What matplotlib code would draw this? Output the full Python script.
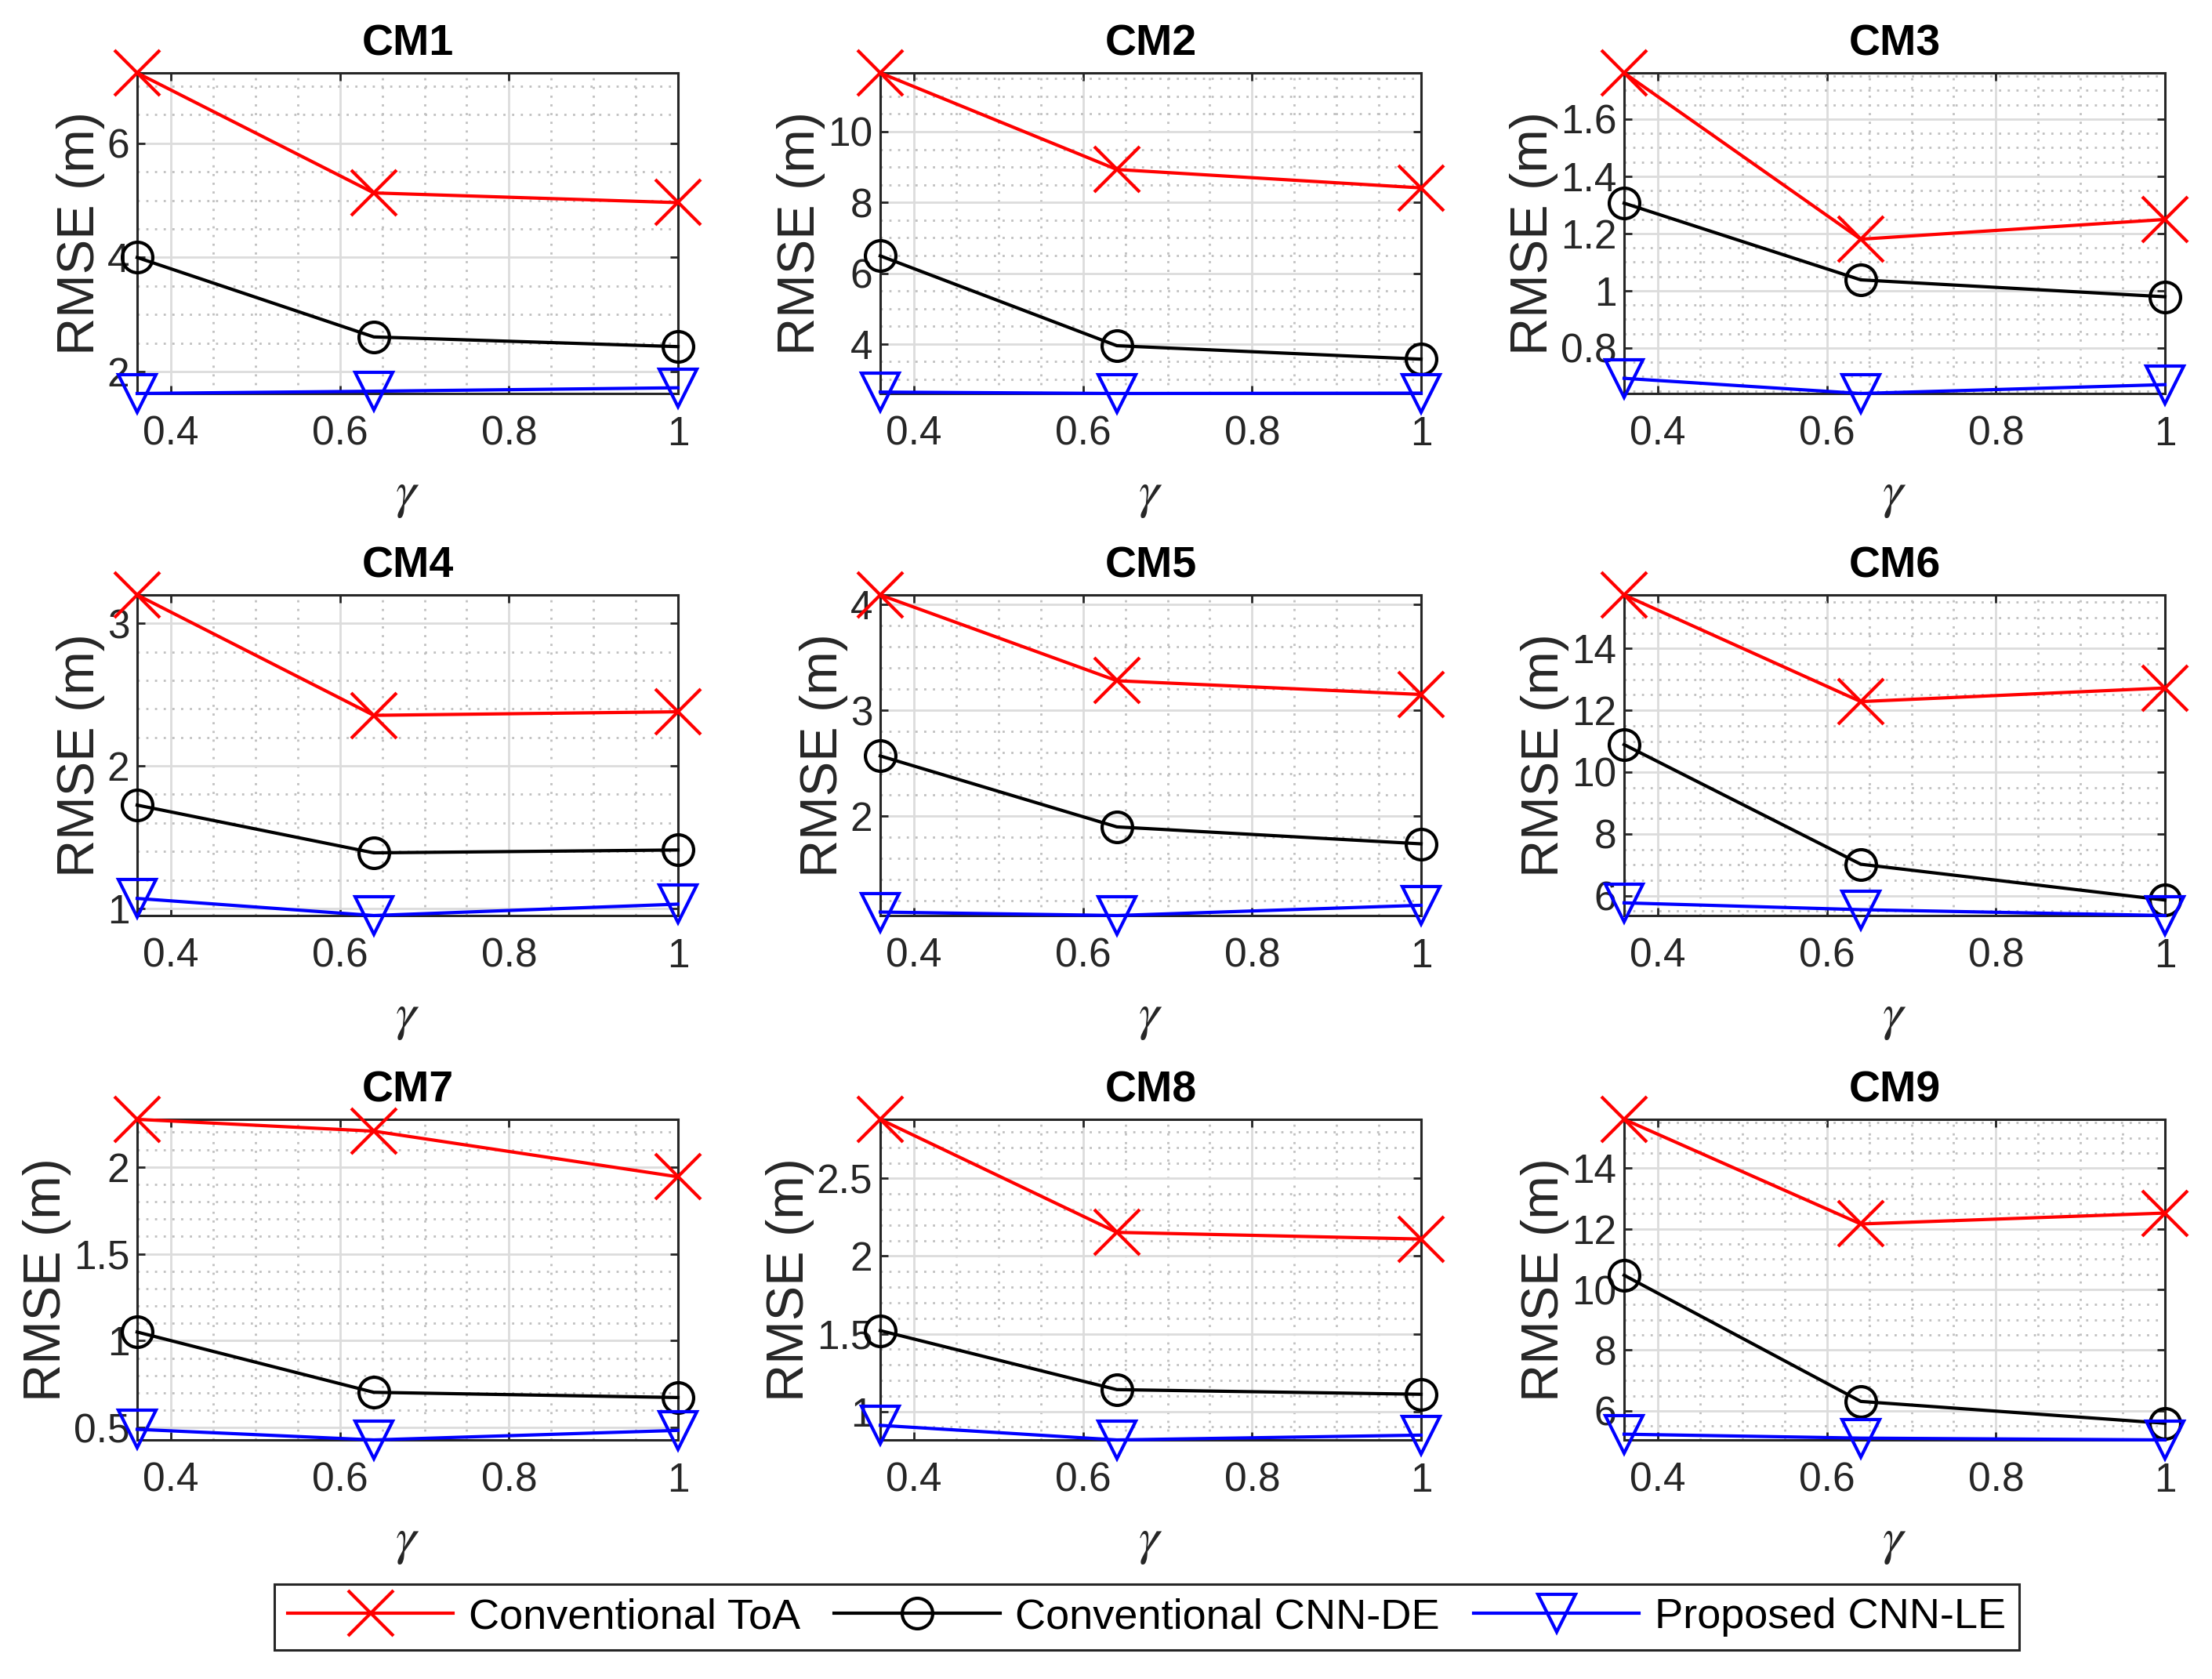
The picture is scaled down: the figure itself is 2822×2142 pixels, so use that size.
import matplotlib
matplotlib.use('Agg')
import matplotlib.pyplot as plt
from matplotlib.ticker import MultipleLocator, AutoMinorLocator, FormatStrFormatter

plt.rcParams['font.family'] = ['Liberation Sans', 'DejaVu Sans']
plt.rcParams['mathtext.fontset'] = 'stix'

# Data
gamma = [0.36, 0.64, 1.0]
titles = ['CM1', 'CM2', 'CM3', 'CM4', 'CM5', 'CM6', 'CM7', 'CM8', 'CM9']

toa_rmse = [
    [7.23, 5.13, 4.96],
    [11.66, 8.93, 8.41],
    [1.761, 1.180, 1.249],
    [3.20, 2.355, 2.38],
    [4.09, 3.28, 3.15],
    [15.73, 12.28, 12.72],
    [2.274, 2.206, 1.943],
    [2.881, 2.153, 2.11],
    [15.61, 12.16, 12.52],
]
cnn_de_rmse = [
    [4.0, 2.61, 2.44],
    [6.49, 3.95, 3.57],
    [1.306, 1.038, 0.979],
    [1.725, 1.39, 1.41],
    [2.57, 1.90, 1.74],
    [10.89, 7.02, 5.86],
    [1.05, 0.703, 0.673],
    [1.52, 1.14, 1.11],
    [10.47, 6.31, 5.59],
]
cnn_le_rmse = [
    [1.62, 1.66, 1.72],
    [2.64, 2.60, 2.61],
    [0.694, 0.641, 0.672],
    [1.07, 0.95, 1.03],
    [1.096, 1.063, 1.16],
    [5.77, 5.55, 5.36],
    [0.49, 0.429, 0.484],
    [0.91, 0.816, 0.847],
    [5.23, 5.10, 5.04],
]
labels = ['Conventional ToA', 'Conventional CNN-DE', 'Proposed CNN-LE']

# y tick steps as MATLAB chose them
y_steps = [2, 2, 0.2, 1, 1, 2, 0.5, 0.5, 2]

W, H = 2822, 2142
fig = plt.figure(figsize=(W / 200, H / 200), dpi=200)

col_left = [175, 1123, 2072]
row_top = [93, 759, 1428]
ax_w, ax_h = 690, 409

axis_col = '#262626'
handles = None
for i in range(9):
    r, c = divmod(i, 3)
    ax = fig.add_axes([col_left[c] / W, 1 - (row_top[r] + ax_h) / H, ax_w / W, ax_h / H])

    l1, = ax.plot(gamma, toa_rmse[i], color='red', lw=1.5, marker='x', ms=21, mew=1.5,
                  clip_on=False, zorder=5)
    l2, = ax.plot(gamma, cnn_de_rmse[i], color='black', lw=1.5, marker='o', ms=14,
                  mfc='none', mew=1.5, clip_on=False, zorder=5)
    l3, = ax.plot(gamma, cnn_le_rmse[i], color='blue', lw=1.5, marker='v', ms=17,
                  mfc='none', mew=1.5, clip_on=False, zorder=5)
    handles = [l1, l2, l3]

    all_vals = toa_rmse[i] + cnn_de_rmse[i] + cnn_le_rmse[i]
    ax.set_xlim(min(gamma), max(gamma))
    ax.set_ylim(min(all_vals), max(all_vals))

    ax.xaxis.set_major_locator(MultipleLocator(0.2))
    ax.xaxis.set_minor_locator(AutoMinorLocator(4))
    ax.yaxis.set_major_locator(MultipleLocator(y_steps[i]))
    ndiv = 4 if str(y_steps[i]).strip('0.').startswith('2') else 5
    ax.yaxis.set_minor_locator(AutoMinorLocator(ndiv))
    ax.xaxis.set_major_formatter(FormatStrFormatter('%g'))
    ax.yaxis.set_major_formatter(FormatStrFormatter('%g'))

    ax.grid(True, which='major', color='#dcdcdc', lw=1.0, ls='-')
    ax.grid(True, which='minor', color='#c0c0c0', lw=1.0, ls=(0, (1, 3)))
    ax.set_axisbelow(True)

    ax.tick_params(which='both', direction='in', top=True, right=True,
                   colors=axis_col, labelsize=18.5, width=1.0)
    ax.tick_params(which='major', length=3.6)
    ax.tick_params(which='minor', length=0)
    ax.tick_params(axis='x', pad=10)
    for s in ax.spines.values():
        s.set_color(axis_col)
        s.set_linewidth(1.1)

    ax.set_title(titles[i], fontsize=20, fontweight='bold', pad=8)
    ax.set_ylabel('RMSE (m)', fontsize=24, color=axis_col, labelpad=1)
    ax.set_xlabel(r'$\gamma$', fontsize=24, color=axis_col, labelpad=8)

leg = fig.legend(handles, labels, loc='center',
                 bbox_to_anchor=((353 + 2573) / 2 / W, 1 - (2018 + 2108) / 2 / H),
                 ncol=3, fontsize=19.5, handlelength=3.9, handletextpad=0.36,
                 columnspacing=0.8, fancybox=False, framealpha=1, borderpad=0.32)
leg.get_frame().set_edgecolor(axis_col)
leg.get_frame().set_linewidth(1.1)

fig.savefig('out.png', dpi=200)
